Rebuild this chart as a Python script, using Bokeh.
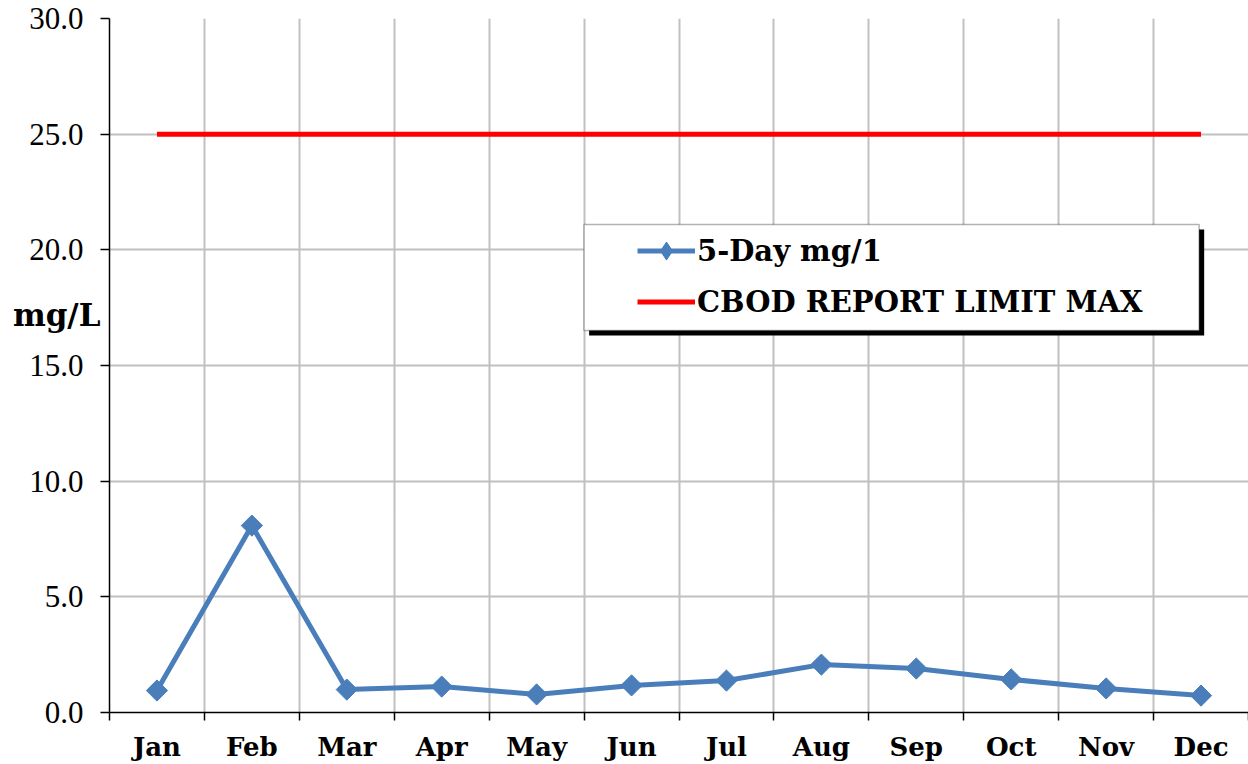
from bokeh.plotting import figure
from bokeh.models import (FixedTicker, NumeralTickFormatter, Legend, LegendItem,
                          BoxAnnotation, Range1d, LinearAxis)
from bokeh.embed import file_html
from bokeh.resources import INLINE

months = ["Jan", "Feb", "Mar", "Apr", "May", "Jun",
          "Jul", "Aug", "Sep", "Oct", "Nov", "Dec"]
cbod_5day = [0.95, 8.08, 0.99, 1.12, 0.78, 1.17, 1.38, 2.07, 1.90, 1.43, 1.04, 0.73]
limit_max = [25.0] * 12
y_ticks = [0, 5, 10, 15, 20, 25, 30]
y_title = "mg/L"

x = [i + 0.5 for i in range(len(months))]
bounds = list(range(len(months) + 1))

SERIF = "Liberation Serif"
BOLD_SERIF = "DejaVu Serif"
BLUE = "#4a7ebb"

p = figure(width=1248, height=764, x_range=Range1d(0, 12), y_range=Range1d(0, 30),
           output_backend="svg", toolbar_location=None,
           min_border_left=109, min_border_right=0, min_border_top=18, min_border_bottom=52)
p.outline_line_color = None

# grids
p.xgrid.ticker = FixedTicker(ticks=bounds)
p.ygrid.ticker = FixedTicker(ticks=y_ticks)
for g in (p.xgrid, p.ygrid):
    g.grid_line_color = "#c0c0c0"
    g.grid_line_width = 2

# x axis
xa = p.xaxis[0]
xa.ticker = FixedTicker(ticks=x, minor_ticks=bounds)
xa.major_label_overrides = {xi: m for xi, m in zip(x, months)}
xa.major_tick_line_color = None
xa.major_tick_out = 0
xa.major_tick_in = 0
xa.minor_tick_out = 8
xa.minor_tick_in = 0
xa.minor_tick_line_color = "black"
xa.minor_tick_line_width = 1.5
xa.axis_line_color = "black"
xa.axis_line_width = 1.5
xa.major_label_text_font = BOLD_SERIF
xa.major_label_text_font_style = "bold"
xa.major_label_text_font_size = "26px"
xa.major_label_text_color = "black"
xa.major_label_standoff = 11

# y axis
ya = p.yaxis[0]
ya.ticker = FixedTicker(ticks=y_ticks, minor_ticks=[])
ya.formatter = NumeralTickFormatter(format="0.0")
ya.major_tick_out = 9
ya.major_tick_in = 0
ya.major_tick_line_color = "black"
ya.major_tick_line_width = 1.5
ya.minor_tick_line_color = None
ya.axis_line_color = "black"
ya.axis_line_width = 1.5
ya.major_label_text_font = SERIF
ya.major_label_text_font_size = "31px"
ya.major_label_text_color = "black"
ya.major_label_standoff = 17

# horizontal y-axis title, drawn as a one-tick axis further left
title_pos = 17.2
ya2 = LinearAxis(ticker=FixedTicker(ticks=[title_pos], minor_ticks=[]),
                 major_label_overrides={title_pos: y_title},
                 axis_line_color=None, major_tick_line_color=None,
                 minor_tick_line_color=None, major_tick_out=0, major_tick_in=0,
                 major_label_standoff=-74,
                 major_label_text_font=BOLD_SERIF, major_label_text_font_style="bold",
                 major_label_text_font_size="31px", major_label_text_color="black")
p.add_layout(ya2, "left")

# series
r_limit = p.line(x, limit_max, line_color="#ff0000", line_width=5)
r_line = p.line(x, cbod_5day, line_color=BLUE, line_width=5)
r_pts = p.scatter(x, cbod_5day, marker="square", angle=0.785398, size=15,
                  fill_color=BLUE, line_color=BLUE)
# legend-only diamond marker (not drawn in the plot)
r_leg_marker = p.scatter(x=[float("nan")], y=[float("nan")], marker="diamond", size=15,
                         fill_color=BLUE, line_color=BLUE)

# legend box with shadow
shadow = BoxAnnotation(left=5.053, right=11.533, top=20.884, bottom=16.294,
                       fill_color="black", fill_alpha=1.0, line_color=None)
box = BoxAnnotation(left=5.0, right=11.48, top=21.1, bottom=16.51,
                    fill_color="white", fill_alpha=1.0, line_color="black", line_width=1.5)
p.add_layout(shadow)
p.add_layout(box)

legend = Legend(items=[LegendItem(label="5-Day mg/1", renderers=[r_line, r_leg_marker]),
                       LegendItem(label="CBOD REPORT LIMIT MAX", renderers=[r_limit])],
                location=(528, 388), padding=0, margin=0, spacing=6,
                glyph_width=58, glyph_height=45, label_height=34, label_standoff=2,
                label_text_font=BOLD_SERIF, label_text_font_style="bold",
                label_text_font_size="29px", label_text_color="black",
                border_line_alpha=0, background_fill_alpha=0)
p.add_layout(legend, "center")

open("out.html", "w").write(file_html(p, INLINE))
